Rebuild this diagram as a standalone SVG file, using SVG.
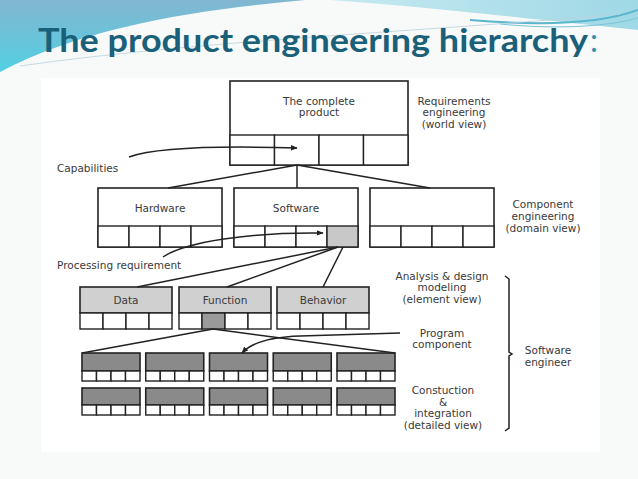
<svg xmlns="http://www.w3.org/2000/svg" width="638" height="479" viewBox="0 0 638 479">
<defs>
<linearGradient id="gL" x1="0" y1="0" x2="0" y2="1">
<stop offset="0" stop-color="#82b6d0"/>
<stop offset="1" stop-color="#52d0e2"/>
</linearGradient>
<linearGradient id="gR" x1="0" y1="0" x2="1" y2="0">
<stop offset="0" stop-color="#c6eaf0"/>
<stop offset="1" stop-color="#9fd8e6"/>
</linearGradient>
<marker id="ah" viewBox="0 0 10 10" refX="9" refY="5" markerWidth="7" markerHeight="7" orient="auto" markerUnits="userSpaceOnUse">
<path d="M0,1 L10,5 L0,9 Z" fill="#222"/>
</marker>
<style>
.bx{fill:#fff;stroke:#222;stroke-width:1.6}
.hl{fill:#d0d0d0;stroke:#222;stroke-width:1.6}
.hd{fill:#8a8a8a;stroke:#222;stroke-width:1.6}
.cl{fill:#fff;stroke:#222;stroke-width:1.4}
.cg{fill:#c8c8c8;stroke:#222;stroke-width:1.4}
.cd{fill:#9a9a9a;stroke:#222;stroke-width:1.4}
.ln{fill:none;stroke:#222;stroke-width:1.5}
.t{font-family:"DejaVu Sans",sans-serif;font-size:10.5px;fill:#3a3a3a}
.m{text-anchor:middle}
</style>
</defs>
<rect x="0" y="0" width="638" height="479" fill="#f8f9f9"/>
<path d="M0,0 L305,0 C 200,10 90,25 0,72 Z" fill="url(#gL)"/>
<path d="M330,0 L638,0 L638,30 C 560,22 440,8 330,0 Z" fill="url(#gR)"/>
<path d="M470,20 C 540,26 600,24 638,10" fill="none" stroke="#5ab6cf" stroke-width="2"/>
<path d="M500,24 C 560,30 610,26 638,18" fill="none" stroke="#7cc4d8" stroke-width="1"/>
<path d="M20,66 C 200,40 450,30 620,14" fill="none" stroke="#b9d3dc" stroke-width="0.8"/>
<text x="38" y="52" font-family="Lato,'Open Sans',sans-serif" font-weight="bold" font-size="32" fill="#1a6079" textLength="550" lengthAdjust="spacingAndGlyphs">The product engineering hierarchy</text>
<text x="590" y="52" font-family="Lato,'Open Sans',sans-serif" font-size="32" fill="#3a8eaa">:</text>
<rect x="41" y="78" width="559" height="374" fill="#ffffff"/>

<g id="product">
<rect class="bx" x="230" y="81" width="178" height="84"/>
<rect class="cl" x="230" y="135" width="44.5" height="30"/>
<rect class="cl" x="274.5" y="135" width="44.5" height="30"/>
<rect class="cl" x="319" y="135" width="44.5" height="30"/>
<rect class="cl" x="363.5" y="135" width="44.5" height="30"/>
<text class="t m" x="319" y="104.5">The complete</text>
<text class="t m" x="319" y="115.5">product</text>
</g>

<g id="hardware">
<rect class="bx" x="98" y="188" width="124" height="59"/>
<rect class="cl" x="98" y="226" width="31" height="21"/>
<rect class="cl" x="129" y="226" width="31" height="21"/>
<rect class="cl" x="160" y="226" width="31" height="21"/>
<rect class="cl" x="191" y="226" width="31" height="21"/>
<text class="t m" x="160" y="211.5">Hardware</text>
</g>

<g id="software">
<rect class="bx" x="234" y="188" width="124" height="59"/>
<rect class="cl" x="234" y="226" width="31" height="21"/>
<rect class="cl" x="265" y="226" width="31" height="21"/>
<rect class="cl" x="296" y="226" width="31" height="21"/>
<rect class="cg" x="327" y="226" width="31" height="21"/>
<text class="t m" x="296" y="211.5">Software</text>
</g>

<g id="component3">
<rect class="bx" x="370" y="188" width="124" height="59"/>
<rect class="cl" x="370" y="226" width="31" height="21"/>
<rect class="cl" x="401" y="226" width="31" height="21"/>
<rect class="cl" x="432" y="226" width="31" height="21"/>
<rect class="cl" x="463" y="226" width="31" height="21"/>
</g>

<g id="data">
<rect class="hl" x="80" y="287" width="92" height="26"/>
<rect class="cl" x="80" y="313" width="23" height="16"/>
<rect class="cl" x="103" y="313" width="23" height="16"/>
<rect class="cl" x="126" y="313" width="23" height="16"/>
<rect class="cl" x="149" y="313" width="23" height="16"/>
<text class="t m" x="126" y="303.5">Data</text>
</g>

<g id="function">
<rect class="hl" x="179" y="287" width="92" height="26"/>
<rect class="cl" x="179" y="313" width="23" height="16"/>
<rect class="cd" x="202" y="313" width="23" height="16"/>
<rect class="cl" x="225" y="313" width="23" height="16"/>
<rect class="cl" x="248" y="313" width="23" height="16"/>
<text class="t m" x="225" y="303.5">Function</text>
</g>

<g id="behavior">
<rect class="hl" x="277" y="287" width="92" height="26"/>
<rect class="cl" x="277" y="313" width="23" height="16"/>
<rect class="cl" x="300" y="313" width="23" height="16"/>
<rect class="cl" x="323" y="313" width="23" height="16"/>
<rect class="cl" x="346" y="313" width="23" height="16"/>
<text class="t m" x="323" y="303.5">Behavior</text>
</g>

<g id="program-row">
<g id="p1"><rect class="hd" x="82" y="353" width="58" height="18"/><rect class="cl" x="82" y="371" width="14.5" height="10"/><rect class="cl" x="96.5" y="371" width="14.5" height="10"/><rect class="cl" x="111" y="371" width="14.5" height="10"/><rect class="cl" x="125.5" y="371" width="14.5" height="10"/></g>
<g id="p2"><rect class="hd" x="145.75" y="353" width="58" height="18"/><rect class="cl" x="145.75" y="371" width="14.5" height="10"/><rect class="cl" x="160.25" y="371" width="14.5" height="10"/><rect class="cl" x="174.75" y="371" width="14.5" height="10"/><rect class="cl" x="189.25" y="371" width="14.5" height="10"/></g>
<g id="p3"><rect class="hd" x="209.5" y="353" width="58" height="18"/><rect class="cl" x="209.5" y="371" width="14.5" height="10"/><rect class="cl" x="224" y="371" width="14.5" height="10"/><rect class="cl" x="238.5" y="371" width="14.5" height="10"/><rect class="cl" x="253" y="371" width="14.5" height="10"/></g>
<g id="p4"><rect class="hd" x="273.25" y="353" width="58" height="18"/><rect class="cl" x="273.25" y="371" width="14.5" height="10"/><rect class="cl" x="287.75" y="371" width="14.5" height="10"/><rect class="cl" x="302.25" y="371" width="14.5" height="10"/><rect class="cl" x="316.75" y="371" width="14.5" height="10"/></g>
<g id="p5"><rect class="hd" x="337" y="353" width="58" height="18"/><rect class="cl" x="337" y="371" width="14.5" height="10"/><rect class="cl" x="351.5" y="371" width="14.5" height="10"/><rect class="cl" x="366" y="371" width="14.5" height="10"/><rect class="cl" x="380.5" y="371" width="14.5" height="10"/></g>
</g>

<g id="detail-row">
<g id="d1"><rect class="hd" x="82" y="388" width="58" height="17"/><rect class="cl" x="82" y="405" width="14.5" height="10"/><rect class="cl" x="96.5" y="405" width="14.5" height="10"/><rect class="cl" x="111" y="405" width="14.5" height="10"/><rect class="cl" x="125.5" y="405" width="14.5" height="10"/></g>
<g id="d2"><rect class="hd" x="145.75" y="388" width="58" height="17"/><rect class="cl" x="145.75" y="405" width="14.5" height="10"/><rect class="cl" x="160.25" y="405" width="14.5" height="10"/><rect class="cl" x="174.75" y="405" width="14.5" height="10"/><rect class="cl" x="189.25" y="405" width="14.5" height="10"/></g>
<g id="d3"><rect class="hd" x="209.5" y="388" width="58" height="17"/><rect class="cl" x="209.5" y="405" width="14.5" height="10"/><rect class="cl" x="224" y="405" width="14.5" height="10"/><rect class="cl" x="238.5" y="405" width="14.5" height="10"/><rect class="cl" x="253" y="405" width="14.5" height="10"/></g>
<g id="d4"><rect class="hd" x="273.25" y="388" width="58" height="17"/><rect class="cl" x="273.25" y="405" width="14.5" height="10"/><rect class="cl" x="287.75" y="405" width="14.5" height="10"/><rect class="cl" x="302.25" y="405" width="14.5" height="10"/><rect class="cl" x="316.75" y="405" width="14.5" height="10"/></g>
<g id="d5"><rect class="hd" x="337" y="388" width="58" height="17"/><rect class="cl" x="337" y="405" width="14.5" height="10"/><rect class="cl" x="351.5" y="405" width="14.5" height="10"/><rect class="cl" x="366" y="405" width="14.5" height="10"/><rect class="cl" x="380.5" y="405" width="14.5" height="10"/></g>
</g>

<g id="connectors">
<path class="ln" d="M297,165 L168,188"/>
<path class="ln" d="M297,165 L297,188"/>
<path class="ln" d="M297,165 L430,188"/>
<path class="ln" d="M338,247 L137,287"/>
<path class="ln" d="M338,247 L227,287"/>
<path class="ln" d="M343,247 L323,287"/>
<path class="ln" d="M213,329 L82,353"/>
<path class="ln" d="M213,329 L395,353"/>
<path class="ln" d="M129,157 C 160,146 230,146 297,148" marker-end="url(#ah)"/>
<path class="ln" d="M163,257 C 185,242 250,232 323,233" marker-end="url(#ah)"/>
<path class="ln" d="M400,333 L300,336 C 270,337 252,342 242,353" marker-end="url(#ah)"/>
<path class="ln" d="M505,276 L509,279 L509,352 L512,354 L509,356 L509,428 L505,431"/>
</g>

<g id="labels">
<text class="t" x="57" y="171.5">Capabilities</text>
<text class="t" x="57" y="268.5">Processing requirement</text>
<text class="t m" x="454" y="104.5">Requirements</text>
<text class="t m" x="454" y="116">engineering</text>
<text class="t m" x="454" y="127.5">(world view)</text>
<text class="t m" x="543" y="207.5">Component</text>
<text class="t m" x="543" y="219.5">engineering</text>
<text class="t m" x="543" y="231.5">(domain view)</text>
<text class="t m" x="442" y="279.5">Analysis &amp; design</text>
<text class="t m" x="442" y="291">modeling</text>
<text class="t m" x="442" y="302.5">(element view)</text>
<text class="t m" x="442" y="336.5">Program</text>
<text class="t m" x="442" y="347.5">component</text>
<text class="t m" x="443" y="393.5">Constuction</text>
<text class="t m" x="443" y="405.5">&amp;</text>
<text class="t m" x="443" y="417">integration</text>
<text class="t m" x="443" y="428.5">(detailed view)</text>
<text class="t m" x="548" y="353.5">Software</text>
<text class="t m" x="548" y="365.5">engineer</text>
</g>
</svg>
